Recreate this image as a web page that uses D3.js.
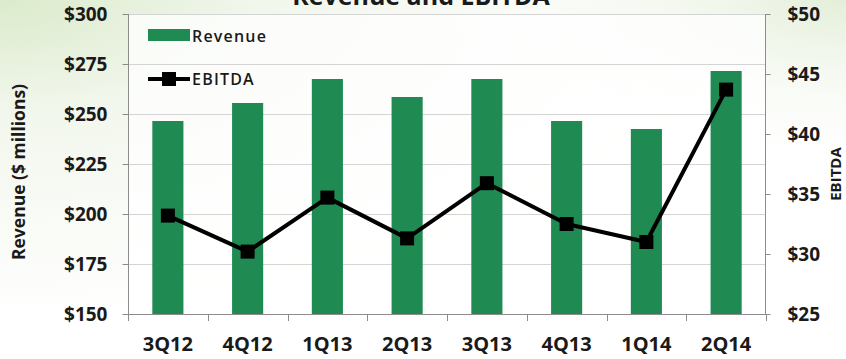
<!DOCTYPE html>
<html><head><meta charset="utf-8">
<script src="https://cdn.jsdelivr.net/npm/d3@7"></script>
<style>html,body{margin:0;padding:0;background:#fff;}svg{display:block;}</style>
</head><body>
<script>
const categories = ["3Q12","4Q12","1Q13","2Q13","3Q13","4Q13","1Q14","2Q14"];
const revenue = [246.5, 255.5, 267.5, 258.5, 267.5, 246.5, 242.5, 271.5];
const ebitda = [33.2, 30.2, 34.7, 31.3, 35.9, 32.5, 31.0, 43.7];
const revTicks = [150,175,200,225,250,275,300];
const ebTicks = [25,30,35,40,45,50];
const title = "Revenue and EBITDA";

(function(){
const W = 846, H = 359;
const svg = d3.select("body").append("svg").attr("width", W).attr("height", H);
const defs = svg.append("defs");
const g1 = defs.append("radialGradient").attr("id","bg").attr("cx","0").attr("cy","0").attr("r","0.9");
g1.append("stop").attr("offset","0").attr("stop-color","#dbeacb");
g1.append("stop").attr("offset","0.35").attr("stop-color","#f2f7ed");
g1.append("stop").attr("offset","1").attr("stop-color","#ffffff");
svg.append("rect").attr("width",W).attr("height",H).attr("fill","url(#bg)");
const g2 = defs.append("radialGradient").attr("id","bg2").attr("cx","1").attr("cy","0").attr("r","0.5");
g2.append("stop").attr("offset","0").attr("stop-color","#e3eed8").attr("stop-opacity",1);
g2.append("stop").attr("offset","1").attr("stop-color","#ffffff").attr("stop-opacity",0);
svg.append("rect").attr("width",W).attr("height",H).attr("fill","url(#bg2)");

const mL = 128, mR = 766, mT = 14, mB = 314;
const font = "'Open Sans', sans-serif";

svg.append("rect").attr("x",mL).attr("y",mT).attr("width",mR-mL).attr("height",mB-mT)
  .attr("fill","#ffffff").attr("opacity",0.75);

const x = d3.scaleBand().domain(categories).range([mL, mR]).paddingInner(0.61).paddingOuter(0.305);
const yL = d3.scaleLinear().domain([150,300]).range([mB, mT]);
const yR = d3.scaleLinear().domain([25,50]).range([mB, mT]);

svg.append("g").selectAll("line").data(revTicks.filter(d=>d>150)).join("line")
  .attr("x1",mL).attr("x2",mR).attr("y1",d=>yL(d)+0.5).attr("y2",d=>yL(d)+0.5)
  .attr("stroke","#d4d4d4").attr("stroke-width",1);

svg.append("g").selectAll("rect").data(categories).join("rect")
  .attr("x",d=>x(d)).attr("width",x.bandwidth())
  .attr("y",(d,i)=>yL(revenue[i])).attr("height",(d,i)=>mB-yL(revenue[i]))
  .attr("fill","#1f8a52");

const axL = svg.append("g").attr("transform",`translate(${mL+0.5},0)`)
  .call(d3.axisLeft(yL).tickValues(revTicks).tickFormat(d=>"$"+d).tickSize(6).tickPadding(15));
const axR = svg.append("g").attr("transform",`translate(${mR-0.5},0)`)
  .call(d3.axisRight(yR).tickValues(ebTicks).tickFormat(d=>"$"+d).tickSize(5).tickPadding(17));
const axB = svg.append("g").attr("transform",`translate(0,${mB+0.5})`)
  .call(d3.axisBottom(x).tickSize(0).tickPadding(22));
const bounds = categories.map(c=>x(c)-x.step()*x.paddingInner()/2).concat([mR]);
svg.append("g").selectAll("line").data(bounds).join("line")
  .attr("x1",d=>Math.round(d)+0.5).attr("x2",d=>Math.round(d)+0.5)
  .attr("y1",mB).attr("y2",mB+7).attr("stroke","#8c8c8c");

[axL,axR,axB].forEach(a=>{
  a.selectAll(".domain").attr("stroke","#8c8c8c");
  a.selectAll(".tick line").attr("stroke","#8c8c8c");
  a.selectAll("text").attr("font-family",font).attr("font-weight","700")
    .attr("font-size","19px").attr("fill","#1a1a1a");
});
axB.selectAll("text").attr("font-size","20px");
axL.select(".domain").attr("d",`M0,${mT}V${mB}`);
axR.select(".domain").attr("d",`M0,${mT}V${mB}`);
axB.select(".domain").attr("d",`M${mL},0H${mR}`);

const line = d3.line().x((d,i)=>x(categories[i])+x.bandwidth()/2).y(d=>yR(d));
svg.append("path").datum(ebitda).attr("d",line).attr("fill","none")
  .attr("stroke","#000").attr("stroke-width",4).attr("stroke-linejoin","round");
svg.append("g").selectAll("rect").data(ebitda).join("rect")
  .attr("x",(d,i)=>x(categories[i])+x.bandwidth()/2-7).attr("y",d=>yR(d)-7)
  .attr("width",14).attr("height",14).attr("fill","#000");

const lg = svg.append("g");
lg.append("rect").attr("x",148).attr("y",29).attr("width",42).attr("height",12).attr("fill","#1f8a52");
lg.append("text").attr("x",192).attr("y",42).text("Revenue")
  .attr("font-family",font).attr("font-size","16px").attr("font-weight","600").attr("fill","#1a1a1a").attr("letter-spacing","1.2");
lg.append("line").attr("x1",148).attr("x2",190).attr("y1",79).attr("y2",79).attr("stroke","#000").attr("stroke-width",4);
lg.append("rect").attr("x",162).attr("y",72).attr("width",14).attr("height",14).attr("fill","#000");
lg.append("text").attr("x",192).attr("y",85).text("EBITDA")
  .attr("font-family",font).attr("font-size","16px").attr("font-weight","600").attr("fill","#1a1a1a").attr("letter-spacing","1.2");

svg.append("text").attr("transform","translate(25,172) rotate(-90)").attr("text-anchor","middle")
  .text("Revenue ($ millions)").attr("font-family",font).attr("font-weight","700").attr("font-size","17.5px").attr("fill","#1a1a1a");
svg.append("text").attr("transform","translate(841,174) rotate(-90)").attr("text-anchor","middle")
  .text("EBITDA").attr("font-family",font).attr("font-weight","700").attr("font-size","15px").attr("fill","#1a1a1a");

svg.append("text").attr("x",421).attr("y",5).attr("text-anchor","middle").text(title)
  .attr("font-family",font).attr("font-weight","700").attr("font-size","25px").attr("fill","#1a1a1a");
})();
</script>
</body></html>
